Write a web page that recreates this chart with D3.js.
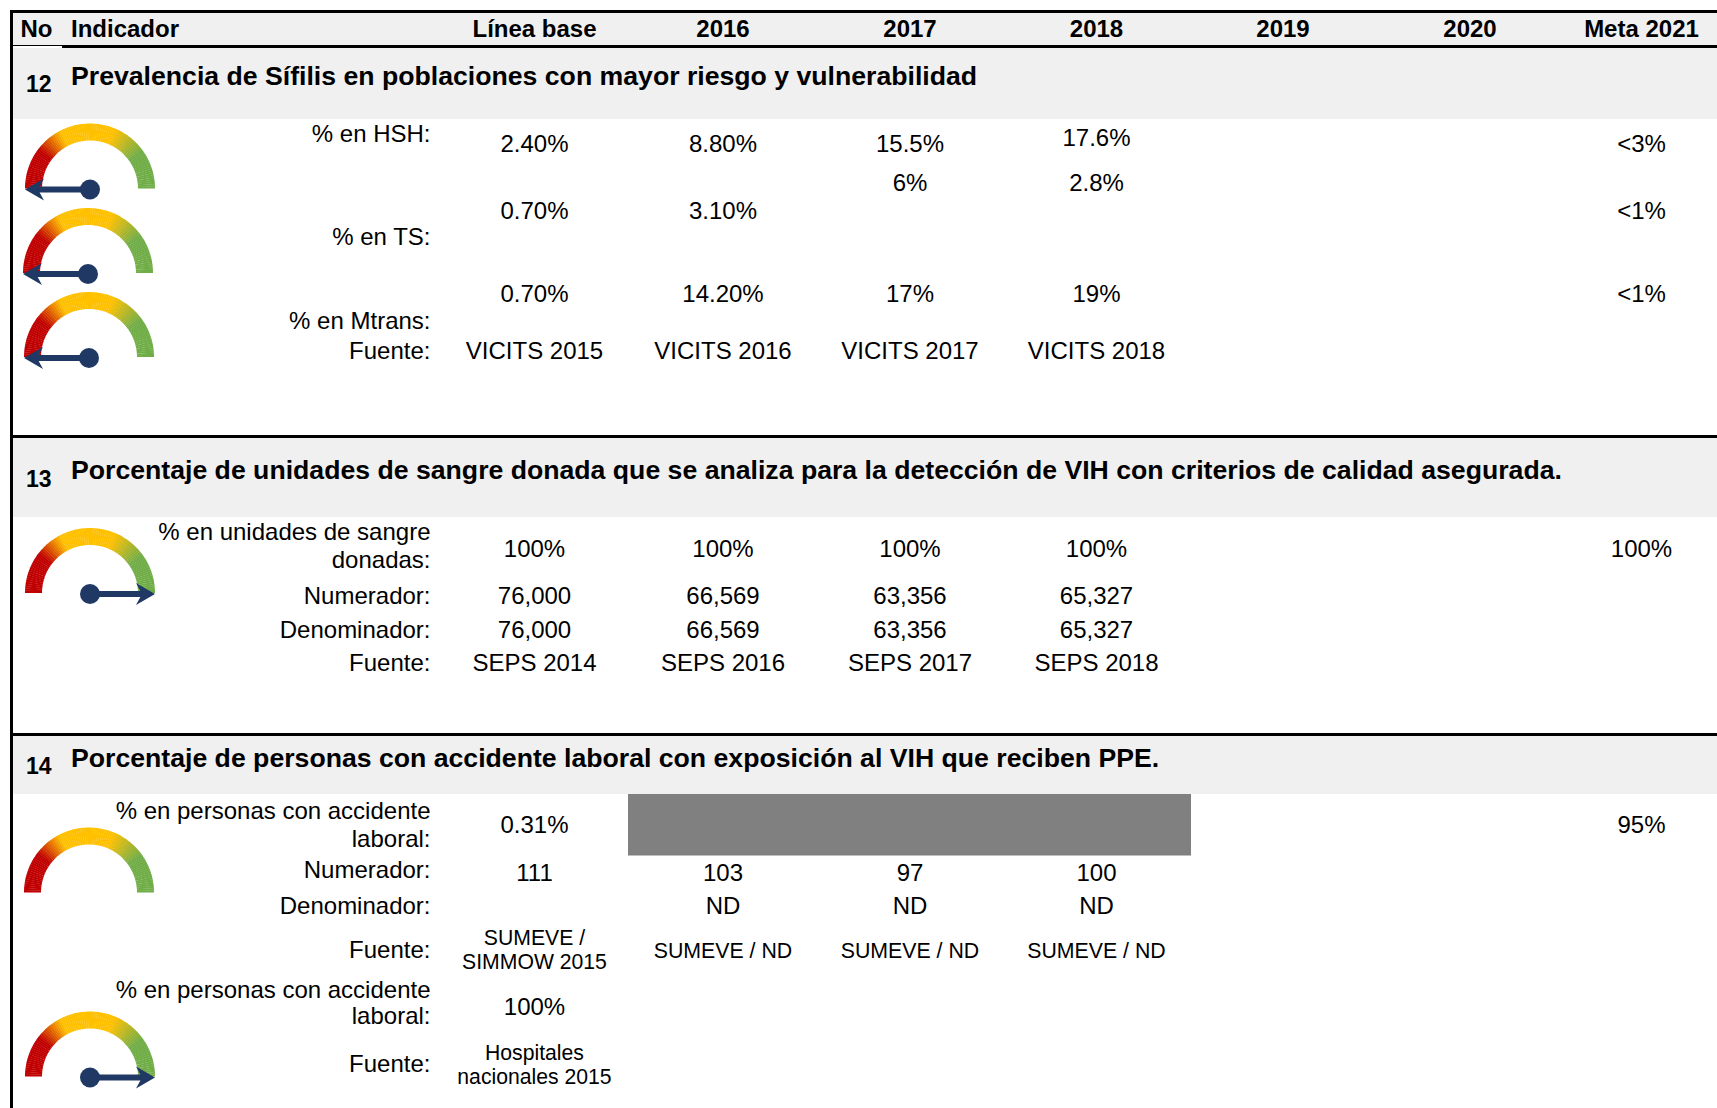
<!DOCTYPE html>
<html>
<head>
<meta charset="utf-8">
<title>Indicadores</title>
<script src="https://d3js.org/d3.v7.min.js"></script>
<style>
html, body { margin: 0; padding: 0; background: #fff; }
svg { display: block; font-family: "Liberation Sans", Arial, sans-serif; fill: #000; }
.head, .title, .num { font-weight: bold; }
</style>
</head>
<body>
<div id="chart"></div>
<script>
// header
const columns = ['Línea base', '2016', '2017', '2018', '2019', '2020', 'Meta 2021'];

// section titles
const sectionNumbers = ['12', '13', '14'];
const sectionTitles = [
    'Prevalencia de Sífilis en poblaciones con mayor riesgo y vulnerabilidad',
    'Porcentaje de unidades de sangre donada que se analiza para la detección de VIH con criterios de calidad asegurada.',
    'Porcentaje de personas con accidente laboral con exposición al VIH que reciben PPE.'
];

// values, one array per row, same order as columns
const hshValues = ['2.40%', '8.80%', '15.5%', '17.6%', '', '', '<3%'];
const tsValues = ['0.70%', '3.10%', '6%', '2.8%', '', '', '<1%'];
const mtransValues = ['0.70%', '14.20%', '17%', '19%', '', '', '<1%'];
const fuente12 = ['VICITS 2015', 'VICITS 2016', 'VICITS 2017', 'VICITS 2018', '', '', ''];
const sangreValues = ['100%', '100%', '100%', '100%', '', '', '100%'];
const numerador13 = ['76,000', '66,569', '63,356', '65,327', '', '', ''];
const denominador13 = ['76,000', '66,569', '63,356', '65,327', '', '', ''];
const fuente13 = ['SEPS 2014', 'SEPS 2016', 'SEPS 2017', 'SEPS 2018', '', '', ''];
const accidenteValues = ['0.31%', '', '', '', '', '', '95%'];
const numerador14 = ['111', '103', '97', '100', '', '', ''];
const denominador14 = ['', 'ND', 'ND', 'ND', '', '', ''];
const fuente14 = [['SUMEVE /', 'SIMMOW 2015'], 'SUMEVE / ND', 'SUMEVE / ND', 'SUMEVE / ND', '', '', ''];
const accidente2Values = ['100%', '', '', '', '', '', ''];
const fuente14b = [['Hospitales', 'nacionales 2015'], '', '', '', '', '', ''];

// gauge readings, 0 = red end, 1 = green end, null = no needle
const gaugeValues = [0, 0, 0, 1, null, 1];

const width = 1717, height = 1108;
const svg = d3.select('#chart').append('svg').attr('width', width).attr('height', height);

const x = d3.scaleOrdinal()
    .domain(columns)
    .range([534.5, 723, 910, 1096.5, 1283, 1470, 1641.5]);

// bands and rules
const bands = [[13, 45], [48, 119], [437, 517], [735, 794]];
svg.selectAll('.band').data(bands).enter().append('rect')
    .attr('x', 13).attr('width', width - 13)
    .attr('y', d => d[0]).attr('height', d => d[1] - d[0])
    .attr('fill', '#f0f0f0');

svg.append('rect').attr('x', 628).attr('y', 794).attr('width', 563).attr('height', 61.5).attr('fill', '#808080');

[[10, 11.5], [62, 46.5], [10, 436.5], [10, 734.5]].forEach(function(r) {
    svg.append('line').attr('x1', r[0]).attr('x2', width)
        .attr('y1', r[1]).attr('y2', r[1])
        .attr('stroke', '#000').attr('stroke-width', 3);
});
svg.append('line').attr('x1', 13).attr('x2', 62).attr('y1', 45.5).attr('y2', 45.5).attr('stroke', '#000').attr('stroke-width', 1);
svg.append('line').attr('x1', 11.5).attr('x2', 11.5).attr('y1', 10).attr('y2', height).attr('stroke', '#000').attr('stroke-width', 3);

// header text
svg.append('text').attr('class', 'head').attr('x', 20.5).attr('y', 37).attr('font-size', 24).text('No');
svg.append('text').attr('class', 'head').attr('x', 71).attr('y', 37).attr('font-size', 24).text('Indicador');
svg.selectAll('.col').data(columns).enter().append('text')
    .attr('class', 'head')
    .attr('x', d => x(d)).attr('y', 37)
    .attr('font-size', 24).attr('text-anchor', 'middle')
    .text(d => d);

// section headings
const titleY = [85, 479, 767];
const numberY = [92, 486.5, 773.5];
sectionTitles.forEach(function(t, i) {
    svg.append('text').attr('class', 'title').attr('x', 71).attr('y', titleY[i]).attr('font-size', 26.65).text(t);
    svg.append('text').attr('class', 'num').attr('x', 26).attr('y', numberY[i]).attr('font-size', 23).text(sectionNumbers[i]);
});

// rows: label lines with their baselines, values with baseline per column
const rows = [
    { labels: [['% en HSH:', 142]], values: hshValues, y: [152, 152, 152, 145.5, 0, 0, 152] },
    { labels: [['% en TS:', 245]], values: tsValues, y: [218.5, 218.5, 191, 191, 0, 0, 218.5] },
    { labels: [['% en Mtrans:', 329]], values: mtransValues, y: 302 },
    { labels: [['Fuente:', 359]], values: fuente12, y: 359 },
    { labels: [['% en unidades de sangre', 540], ['donadas:', 568]], values: sangreValues, y: 557 },
    { labels: [['Numerador:', 604]], values: numerador13, y: 604 },
    { labels: [['Denominador:', 638]], values: denominador13, y: 638 },
    { labels: [['Fuente:', 670.5]], values: fuente13, y: 670.5 },
    { labels: [['% en personas con accidente', 818.5], ['laboral:', 846.5]], values: accidenteValues, y: 833 },
    { labels: [['Numerador:', 878]], values: numerador14, y: 881 },
    { labels: [['Denominador:', 914]], values: denominador14, y: 914 },
    { labels: [['Fuente:', 957.5]], values: fuente14, y: 957.5, small: [945, 969] },
    { labels: [['% en personas con accidente', 998], ['laboral:', 1024]], values: accidente2Values, y: 1015 },
    { labels: [['Fuente:', 1072]], values: fuente14b, y: 1072, small: [1060, 1084] }
];

rows.forEach(function(row) {
    const g = svg.append('g');
    g.selectAll('.label').data(row.labels).enter().append('text')
        .attr('x', 430.5).attr('y', d => d[1])
        .attr('font-size', 24).attr('text-anchor', 'end')
        .text(d => d[0]);
    const cells = columns.map(function(c, i) {
        return { col: c, v: row.values[i], y: Array.isArray(row.y) ? row.y[i] : row.y };
    }).filter(d => d.v !== '');
    cells.forEach(function(d) {
        if (Array.isArray(d.v)) {
            d.v.forEach(function(line, j) {
                g.append('text').attr('x', x(d.col)).attr('y', row.small[j])
                    .attr('font-size', 21.2).attr('text-anchor', 'middle').text(line);
            });
        } else {
            g.append('text').attr('x', x(d.col)).attr('y', d.y)
                .attr('font-size', d.v.indexOf('SUMEVE') === 0 ? 21.3 : 24)
                .attr('text-anchor', 'middle').text(d.v);
        }
    });
});

// gauges
const gaugeSpots = [[90, 188.5], [88, 273], [89, 357], [90, 593], [89, 892.5], [90, 1076.5]];
const angle = d3.scaleLinear().domain([0, 1]).range([-Math.PI / 2, Math.PI / 2]);
const gaugeColor = d3.scaleLinear()
    .domain([0, 0.2, 0.34, 0.62, 0.8, 1])
    .range(['#c00000', '#c00000', '#ffc000', '#ffc000', '#70ad47', '#70ad47']);
const arc = d3.arc().innerRadius(48).outerRadius(65);
const slices = d3.range(0, 1, 1 / 90);

gaugeSpots.forEach(function(p, i) {
    const g = svg.append('g').attr('transform', 'translate(' + p[0] + ',' + p[1] + ')');
    g.selectAll('path').data(slices).enter().append('path')
        .attr('d', d => arc({ startAngle: angle(d), endAngle: Math.min(angle(d + 1 / 80), Math.PI / 2) }))
        .attr('fill', d => gaugeColor(d));
    if (gaugeValues[i] === null) return;
    // needle drawn pointing up, then turned to the reading
    const needle = g.append('g')
        .attr('transform', 'translate(0,1) rotate(' + (angle(gaugeValues[i]) * 180 / Math.PI) + ')');
    needle.append('line').attr('x1', 0).attr('x2', 0).attr('y1', 0).attr('y2', -55)
        .attr('stroke', '#1f3864').attr('stroke-width', 6);
    needle.append('path').attr('d', 'M0,-65 L-11,-46 L0,-52 L11,-46 Z').attr('fill', '#1f3864');
    g.append('circle').attr('cy', 1).attr('r', 10).attr('fill', '#1f3864');
});
</script>
</body>
</html>
